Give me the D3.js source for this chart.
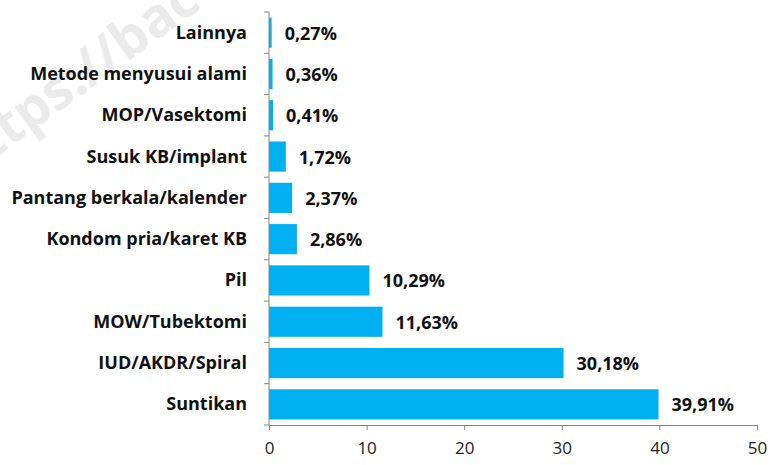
<!DOCTYPE html>
<html>
<head>
<meta charset="utf-8">
<script src="https://cdn.jsdelivr.net/npm/d3@7"></script>
<style>
  body { margin: 0; background: #fff; }
  svg { display: block; font-family: "Open Sans", sans-serif; }
</style>
</head>
<body>
<div id="chart"></div>
<script>
// data, top to bottom as shown
var categories = ["Lainnya", "Metode menyusui alami", "MOP/Vasektomi", "Susuk KB/implant",
  "Pantang berkala/kalender", "Kondom pria/karet KB", "Pil", "MOW/Tubektomi",
  "IUD/AKDR/Spiral", "Suntikan"];
var values = [0.27, 0.36, 0.41, 1.72, 2.37, 2.86, 10.29, 11.63, 30.18, 39.91];
var valueLabels = ["0,27%", "0,36%", "0,41%", "1,72%", "2,37%", "2,86%", "10,29%", "11,63%", "30,18%", "39,91%"];
var xTicks = [0, 10, 20, 30, 40, 50];

var width = 775, height = 465;
var margin = { top: 12, right: 18, bottom: 40, left: 269 };

var svg = d3.select("#chart").append("svg")
  .attr("width", width)
  .attr("height", height);

// faint watermark
svg.append("text")
  .attr("transform", "translate(-38,182) rotate(-36)")
  .attr("font-size", 54)
  .attr("font-weight", "bold")
  .attr("fill", "#ebebeb")
  .text("https://bac");

var x = d3.scaleLinear()
  .domain([0, 50])
  .range([margin.left, width - margin.right]);

var y = d3.scaleBand()
  .domain(categories)
  .range([margin.top, height - margin.bottom])
  .paddingInner(0.27)
  .paddingOuter(0.135);

var bandStep = y.step();

// bars
svg.selectAll(".bar").data(values)
  .enter()
  .append("rect")
  .attr("class", "bar")
  .attr("x", x(0))
  .attr("y", (d, i) => y(categories[i]))
  .attr("width", d => x(d) - x(0))
  .attr("height", y.bandwidth())
  .attr("fill", "#00b0f0");

// value labels
svg.selectAll(".val").data(values)
  .enter()
  .append("text")
  .attr("class", "val")
  .attr("x", d => x(d) + 13)
  .attr("y", (d, i) => y(categories[i]) + y.bandwidth() / 2 + 7)
  .attr("font-size", 18)
  .attr("font-weight", "bold")
  .attr("fill", "#111")
  .text((d, i) => valueLabels[i]);

// category labels
svg.selectAll(".cat").data(categories)
  .enter()
  .append("text")
  .attr("class", "cat")
  .attr("x", margin.left - 22)
  .attr("y", d => y(d) + y.bandwidth() / 2 + 6)
  .attr("text-anchor", "end")
  .attr("font-size", 18)
  .attr("font-weight", "bold")
  .attr("fill", "#111")
  .text(d => d);

// y axis line with ticks at band boundaries
var yTop = margin.top, yBottom = height - margin.bottom;
svg.append("line")
  .attr("x1", x(0)).attr("x2", x(0))
  .attr("y1", yTop).attr("y2", yBottom)
  .attr("stroke", "#868686");

var bounds = d3.range(categories.length + 1).map(i => yTop + i * bandStep);
svg.selectAll(".ytick").data(bounds)
  .enter()
  .append("line")
  .attr("class", "ytick")
  .attr("x1", x(0) - 5).attr("x2", x(0))
  .attr("y1", d => d).attr("y2", d => d)
  .attr("stroke", "#868686");

// x axis
var xAxis = svg.append("g")
  .attr("transform", "translate(0," + yBottom + ")")
  .call(d3.axisBottom(x).tickValues(xTicks).tickSize(5).tickSizeOuter(0).tickPadding(12));

xAxis.select(".domain").attr("stroke", "#868686");
xAxis.selectAll(".tick line").attr("stroke", "#868686");
xAxis.selectAll(".tick text")
  .attr("font-size", 17)
  .attr("font-family", "'Open Sans', sans-serif")
  .attr("fill", "#222");
</script>
</body>
</html>
